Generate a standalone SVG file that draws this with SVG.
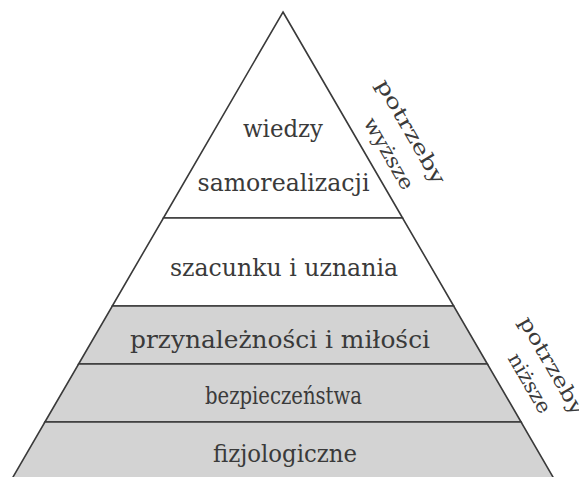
<svg xmlns="http://www.w3.org/2000/svg" width="579" height="477" viewBox="0 0 579 477">
<style>
.lvl{stroke:#3a3a3a;stroke-width:1.6;stroke-linejoin:miter}
.w{fill:#ffffff}
.g{fill:#d3d3d3}
.t{font-family:'DejaVu Serif','Liberation Serif',serif;font-size:24px;fill:#3a3a3a;text-anchor:middle}
.s{font-family:'DejaVu Serif','Liberation Serif',serif;font-size:20px;fill:#3a3a3a;text-anchor:middle}
</style>
<rect width="579" height="477" fill="#ffffff"/>
<g id="samorealizacji">
<polygon class="lvl w" points="283,12 402.6,218 163.4,218"/>
<text class="t" x="283" y="137" textLength="80" lengthAdjust="spacingAndGlyphs">wiedzy</text>
<text class="t" x="283.5" y="191" textLength="172" lengthAdjust="spacingAndGlyphs">samorealizacji</text>
</g>
<g id="szacunku">
<polygon class="lvl w" points="163.4,218 402.6,218 453.7,306 112.3,306"/>
<text class="t" x="284" y="276" textLength="228" lengthAdjust="spacingAndGlyphs">szacunku i uznania</text>
</g>
<g id="przynaleznosci">
<polygon class="lvl g" points="112.3,306 453.7,306 487.4,364 78.6,364"/>
<text class="t" x="280" y="348" textLength="300" lengthAdjust="spacingAndGlyphs">przynależności i miłości</text>
</g>
<g id="bezpieczenstwa">
<polygon class="lvl g" points="78.6,364 487.4,364 521.1,422 44.9,422"/>
<text class="t" x="283.5" y="404" textLength="157" lengthAdjust="spacingAndGlyphs">bezpieczeństwa</text>
</g>
<g id="fizjologiczne">
<polygon class="lvl g" points="44.9,422 521.1,422 554.7,480 11.3,480"/>
<text class="t" x="285" y="462" textLength="144" lengthAdjust="spacingAndGlyphs">fizjologiczne</text>
</g>
<g id="wyzsze">
<g transform="translate(405,135) rotate(60)">
<text class="s" x="0" y="0" textLength="118" lengthAdjust="spacingAndGlyphs">potrzeby</text>
<text class="s" x="8" y="30" textLength="80" lengthAdjust="spacingAndGlyphs">wyższe</text>
</g>
</g>
<g id="nizsze">
<g transform="translate(546,369) rotate(60)">
<text class="s" x="0" y="0" textLength="110" lengthAdjust="spacingAndGlyphs">potrzeby</text>
<text class="s" x="4" y="28" textLength="66" lengthAdjust="spacingAndGlyphs">niższe</text>
</g>
</g>
<g id="connectors"></g>
</svg>
